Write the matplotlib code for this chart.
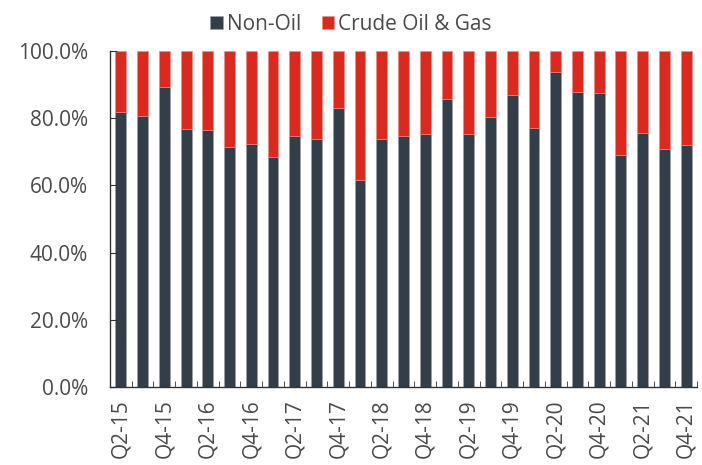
import numpy as np
import matplotlib

matplotlib.use('Agg')
import matplotlib.pyplot as plt
from matplotlib.ticker import PercentFormatter, FixedLocator

quarters = ['Q2-15', 'Q3-15', 'Q4-15', 'Q1-16', 'Q2-16', 'Q3-16', 'Q4-16',
            'Q1-17', 'Q2-17', 'Q3-17', 'Q4-17', 'Q1-18', 'Q2-18', 'Q3-18',
            'Q4-18', 'Q1-19', 'Q2-19', 'Q3-19', 'Q4-19', 'Q1-20', 'Q2-20',
            'Q3-20', 'Q4-20', 'Q1-21', 'Q2-21', 'Q3-21', 'Q4-21']
non_oil = [81.9, 80.7, 89.3, 76.9, 76.6, 71.3, 72.2, 68.4, 74.8, 73.9, 82.9,
           61.7, 73.9, 74.8, 75.4, 85.8, 75.3, 80.3, 87.0, 77.0, 93.8, 87.9,
           87.4, 69.0, 75.7, 70.9, 71.9]
crude_oil = [100 - v for v in non_oil]

dark = '#333f48'
red = '#dc291e'
txt = '#4a4a4a'

plt.rcParams['font.family'] = ['Open Sans', 'DejaVu Sans']

fig = plt.figure(figsize=(7.02, 4.65), dpi=100)
ax = fig.add_axes([110 / 702, 1 - 387 / 465, 587 / 702, 336 / 465])

x = np.arange(len(quarters))
ax.bar(x, non_oil, width=0.5, color=dark, edgecolor='#9aa0a6', linewidth=0.4,
       label='Non-Oil')
ax.bar(x, crude_oil, width=0.5, bottom=non_oil, color=red, edgecolor='#f08a84',
       linewidth=0.4, label='Crude Oil & Gas')

ax.set_xlim(-0.5, len(quarters) - 0.5)
ax.set_ylim(0, 100)
ax.set_yticks(np.arange(0, 101, 20))
ax.yaxis.set_major_formatter(PercentFormatter(decimals=1))

# labels every other quarter, tick marks on category boundaries
ax.set_xticks(x[::2])
ax.set_xticklabels(quarters[::2], rotation=90)
ax.xaxis.set_minor_locator(FixedLocator(np.arange(-0.5, len(quarters), 1)))
ax.tick_params(axis='x', which='major', length=0, pad=9, labelsize=15,
               labelcolor=txt)
ax.tick_params(axis='x', which='minor', direction='in', length=4,
               color='#333333')
ax.tick_params(axis='y', direction='in', length=5, color='#333333',
               labelsize=15, labelcolor=txt, pad=16)

for s in ['top', 'right']:
    ax.spines[s].set_visible(False)
for s in ['left', 'bottom']:
    ax.spines[s].set_color('#333333')
    ax.spines[s].set_linewidth(1)

fig.legend(loc='upper center', bbox_to_anchor=(0.5, 1.01), ncol=2,
           frameon=False, fontsize=15, labelcolor=txt, handlelength=0.6,
           handleheight=0.6, handletextpad=0.2, columnspacing=1.0)

fig.savefig('out.png', dpi=100)
